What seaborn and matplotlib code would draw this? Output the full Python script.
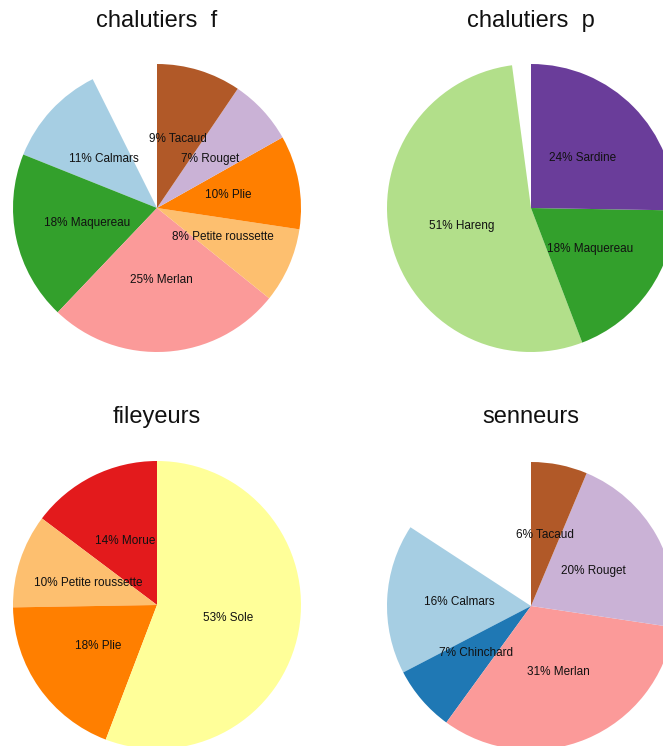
import matplotlib.pyplot as plt
import seaborn as sns

sns.set_theme(style="white")
plt.rcParams['font.family'] = ['Liberation Sans', 'DejaVu Sans']

# especes triees, une couleur "Paired" par espece
especes = ["Calmars", "Chinchard", "Hareng", "Maquereau", "Merlan", "Morue",
           "Petite roussette", "Plie", "Rouget", "Sardine", "Sole", "Tacaud"]
couleurs = dict(zip(especes, sns.color_palette("Paired", 12)))
couleurs["Autres"] = "white"

# donnees (en %), "Autres" = part non etiquetee (blanc)
chal_f_especes = ["Autres", "Calmars", "Maquereau", "Merlan", "Petite roussette", "Plie", "Rouget", "Tacaud"]
chal_f_pct = [7, 11, 18, 25, 8, 10, 7, 9]

chal_p_especes = ["Autres", "Hareng", "Maquereau", "Sardine"]
chal_p_pct = [2, 51, 18, 24]

fil_especes = ["Autres", "Morue", "Petite roussette", "Plie", "Sole"]
fil_pct = [0, 14, 10, 18, 53]

sen_especes = ["Autres", "Calmars", "Chinchard", "Merlan", "Rouget", "Tacaud"]
sen_pct = [15, 16, 7, 31, 20, 6]

titres = ["chalutiers  f", "chalutiers  p", "fileyeurs", "senneurs"]
donnees = [(chal_f_especes, chal_f_pct), (chal_p_especes, chal_p_pct),
           (fil_especes, fil_pct), (sen_especes, sen_pct)]

W, H = 663, 746
fig = plt.figure(figsize=(W / 100, H / 100), dpi=100)

centres = [(157, 208), (531, 208), (157, 605), (531, 606)]
titre_y = [27, 27, 423, 423]
r = 144
m = 1.01

for (noms, pct), titre, (cx, cy), ty in zip(donnees, titres, centres, titre_y):
    h = r * m
    ax = fig.add_axes([(cx - h) / W, 1 - (cy + h) / H, 2 * h / W, 2 * h / H])
    etiquettes = ["" if n == "Autres" else f"{p}% {n}" for n, p in zip(noms, pct)]
    wedges, texts = ax.pie(pct, colors=[couleurs[n] for n in noms],
                           labels=etiquettes, labeldistance=0.5,
                           startangle=90, counterclock=True, radius=1,
                           wedgeprops=dict(linewidth=0),
                           textprops=dict(fontsize=8.5, color="#111111"))
    for t in texts:
        t.set_ha("center")
        t.set_va("center")
    ax.set_xlim(-m, m)
    ax.set_ylim(-m, m)
    ax.axis("off")
    fig.text(cx / W, 1 - ty / H, titre, ha="center", va="baseline",
             fontsize=17, color="#111111")

fig.savefig("out.png", dpi=100)
